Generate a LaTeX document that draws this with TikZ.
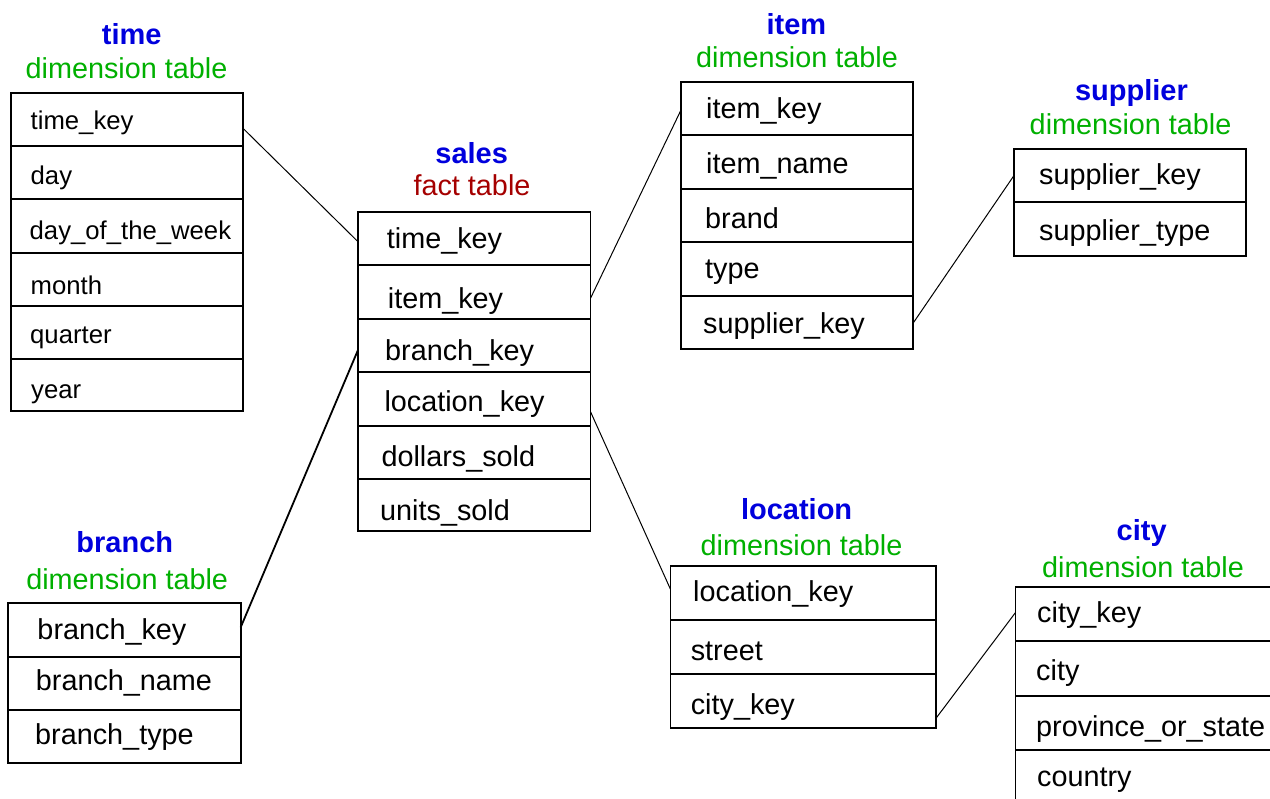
\documentclass[tikz,border=0pt]{standalone}
\usepackage{fontspec}
\setmainfont{Liberation Sans}
\definecolor{hblue}{RGB}{0,0,221}
\definecolor{hgreen}{RGB}{0,176,0}
\definecolor{hred}{RGB}{165,0,0}
\newcommand{\dbrow}[9]{%
  \node[cell, minimum width=#4pt, minimum height=#5pt] (#1) at (#2,#3) {};
  \node[#9] (#1-t) at (#6,#7) {#8};%
}
\tikzset{
  cell/.style={draw=black, line width=1.6pt, rectangle, inner sep=0pt, outer sep=0pt, anchor=north west},
  ctext/.style={anchor=base west, inner sep=0pt, font=\fontsize{28.8}{32}\selectfont},
  ttext/.style={anchor=base west, inner sep=0pt, font=\fontsize{25.7}{30}\selectfont},
  htitle/.style={anchor=base, inner sep=0pt, text=hblue, font=\bfseries\fontsize{29}{32}\selectfont},
  hsub/.style={anchor=base, inner sep=0pt, text=hgreen, font=\fontsize{28.8}{32}\selectfont},
  hfact/.style={hsub, text=hred},
  link/.style={line width=1pt, draw=black},
  thicklink/.style={line width=1.8pt, draw=black}
}
\begin{document}
\begin{tikzpicture}[x=1pt,y=-1pt]
\useasboundingbox (0,0) rectangle (1270,799);
\clip (0,0) rectangle (1270,799);
\fill[white] (0,0) rectangle (1270,799);

% ---------- time ----------
\node[htitle] (timeh) at (131.7,45) {time};
\node[hsub] (timed) at (126.5,78.3) {dimension table};
\dbrow{time-tk}{11}{93}{232}{53}{30.5}{129.5}{time\_key}{ttext}
\dbrow{time-day}{11}{146}{232}{53}{30.5}{185}{day}{ttext}
\dbrow{time-dow}{11}{199}{232}{54}{29.5}{240}{day\_of\_the\_week}{ttext}
\dbrow{time-month}{11}{253}{232}{53}{30.5}{295}{month}{ttext}
\dbrow{time-quarter}{11}{306}{232}{53}{30}{344}{quarter}{ttext}
\dbrow{time-year}{11}{359}{232}{52}{31}{399}{year}{ttext}

% ---------- sales ----------
\node[htitle] (salesh) at (471.7,163.3) {sales};
\node[hfact] (salesd) at (472,195.7) {fact table};
\dbrow{sales-tk}{358}{212}{232.5}{53}{386.7}{248.3}{time\_key}{ctext}
\dbrow{sales-ik}{358}{265}{232.5}{54}{387.7}{308.5}{item\_key}{ctext}
\dbrow{sales-bk}{358}{319}{232.5}{53}{385}{361}{branch\_key}{ctext}
\dbrow{sales-lk}{358}{372}{232.5}{54}{384.3}{411.7}{location\_key}{ctext}
\dbrow{sales-ds}{358}{426}{232.5}{53}{381.3}{466.7}{dollars\_sold}{ctext}
\dbrow{sales-us}{358}{479}{232.5}{52}{380}{520.5}{units\_sold}{ctext}

% ---------- item ----------
\node[htitle] (itemh) at (796.4,34.5) {item};
\node[hsub] (itemd) at (797,68) {dimension table};
\dbrow{item-ik}{681}{82}{232}{53}{706}{118.3}{item\_key}{ctext}
\dbrow{item-in}{681}{135}{232}{54}{706}{174}{item\_name}{ctext}
\dbrow{item-br}{681}{189}{232}{53}{705}{228.3}{brand}{ctext}
\dbrow{item-ty}{681}{242}{232}{54}{705}{278.3}{type}{ctext}
\dbrow{item-sk}{681}{296}{232}{53}{703}{333.3}{supplier\_key}{ctext}

% ---------- supplier ----------
\node[htitle] (suph) at (1131.4,100.7) {supplier};
\node[hsub] (supd) at (1130.6,134.5) {dimension table};
\dbrow{sup-sk}{1014}{149}{232}{53}{1039}{185}{supplier\_key}{ctext}
\dbrow{sup-st}{1014}{202}{232}{54}{1039}{240.7}{supplier\_type}{ctext}

% ---------- branch ----------
\node[htitle] (branchh) at (124.8,552.3) {branch};
\node[hsub] (branchd) at (127.2,589) {dimension table};
\dbrow{branch-bk}{8}{603}{232.7}{54}{37.3}{639}{branch\_key}{ctext}
\dbrow{branch-bn}{8}{657}{232.7}{53}{35.7}{690.7}{branch\_name}{ctext}
\dbrow{branch-bt}{8}{710}{232.7}{53}{35}{744}{branch\_type}{ctext}

% ---------- location ----------
\node[htitle] (loch) at (796.6,520) {location};
\node[hsub] (locd) at (801.5,555.7) {dimension table};
\dbrow{loc-lk}{670.5}{566}{265.5}{54}{693}{601.7}{location\_key}{ctext}
\dbrow{loc-st}{670.5}{620}{265.5}{54}{690.6}{660}{street}{ctext}
\dbrow{loc-ck}{670.5}{674}{265.5}{54}{690.6}{714}{city\_key}{ctext}

% ---------- city ----------
\node[htitle] (cityh) at (1141.7,540) {city};
\node[hsub] (cityd) at (1143,577.3) {dimension table};
\dbrow{city-ck}{1015.4}{587}{280}{54}{1037}{622.7}{city\_key}{ctext}
\dbrow{city-c}{1015.4}{641}{280}{55}{1036}{680}{city}{ctext}
\dbrow{city-ps}{1015.4}{696}{280}{54}{1036}{736}{province\_or\_state}{ctext}
\dbrow{city-co}{1015.4}{750}{280}{54}{1037}{786.7}{country}{ctext}

% ---------- connectors ----------
\draw[link] ([yshift=-8.8pt]time-tk.east) -- ([yshift=-3.2pt]sales-tk.west);
\draw[link] ([yshift=-6.3pt]sales-ik.east) -- ([yshift=-1.5pt]item-ik.west);
\draw[link] ([yshift=-0.8pt]item-sk.east) -- (sup-sk.west);
\draw[thicklink] ([yshift=2.7pt]branch-bk.east) -- ([yshift=-4.5pt]sales-bk.west);
\draw[link] ([yshift=-12.7pt]sales-lk.east) -- ([yshift=3.7pt]loc-lk.west);
\draw[link] ([yshift=-17.3pt]loc-ck.east) -- ([yshift=1.3pt]city-ck.west);
\end{tikzpicture}
\end{document}
